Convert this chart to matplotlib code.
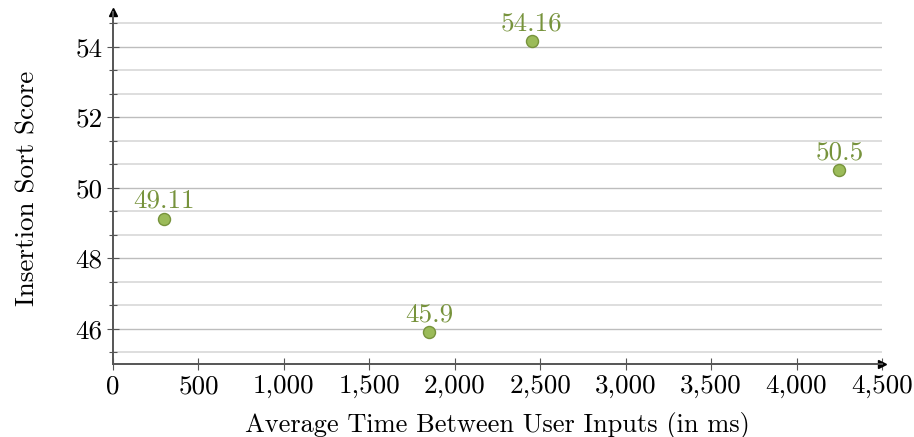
import matplotlib
matplotlib.use("Agg")
import matplotlib.pyplot as plt
from matplotlib.ticker import FuncFormatter, MultipleLocator

# data
avg_time_ms = [300, 1850, 2450, 4250]
insertion_score = [49.11, 45.9, 54.16, 50.5]
point_labels = ["49.11", "45.9", "54.16", "50.5"]

plt.rcParams["font.family"] = ["cmr10", "DejaVu Serif"]
plt.rcParams["mathtext.fontset"] = "cm"
plt.rcParams["axes.formatter.use_mathtext"] = True

FS = 19.5

fig = plt.figure(figsize=(9.14, 4.37), dpi=100)
ax = fig.add_axes([113 / 914, 1 - 364 / 437, (882 - 113) / 914, (364 - 11.75) / 437])

ax.set_xlim(0, 4500)
ax.set_ylim(45, 55)

# horizontal grid at major and minor y ticks
ax.yaxis.set_major_locator(MultipleLocator(2))
ax.yaxis.set_minor_locator(MultipleLocator(2 / 3))
ax.xaxis.set_major_locator(MultipleLocator(500))
ax.grid(True, axis="y", which="major", color="#bdbdbd", lw=1.0)
ax.grid(True, axis="y", which="minor", color="#d8d8d8", lw=1.2)
ax.set_axisbelow(True)

ax.scatter(avg_time_ms, insertion_score, s=75, color="#9bbb59",
           edgecolor="#77933c", linewidth=1.0, zorder=3)
for x, y, t in zip(avg_time_ms, insertion_score, point_labels):
    ax.annotate(t, (x, y), xytext=(0, 4.5), textcoords="offset points",
                ha="center", va="bottom", fontsize=FS, color="#77933c", zorder=4)

ax.xaxis.set_major_formatter(FuncFormatter(lambda v, p: f"{int(v):,}"))
ax.yaxis.set_major_formatter(FuncFormatter(lambda v, p: f"{int(v)}"))

for s in ("top", "right"):
    ax.spines[s].set_visible(False)
for s in ("left", "bottom"):
    ax.spines[s].set_color("#555555")
    ax.spines[s].set_linewidth(1.4)

ax.tick_params(which="major", direction="inout", length=9, width=0.8,
               color="#555555", labelsize=FS, pad=3)
ax.tick_params(which="minor", direction="inout", length=6, width=0.8, color="#555555")
ax.tick_params(axis="x", which="minor", length=0)

# arrow heads on the axis lines
ax.plot(1, 0, marker=">", color="black", ms=6, transform=ax.transAxes, clip_on=False)
ax.plot(0, 1, marker="^", color="black", ms=6, transform=ax.transAxes, clip_on=False)

ax.set_xlabel("Average Time Between User Inputs (in ms)", fontsize=19, labelpad=10)
ax.set_ylabel("Insertion Sort Score", fontsize=FS, labelpad=26)

fig.savefig("out.png", dpi=100)
